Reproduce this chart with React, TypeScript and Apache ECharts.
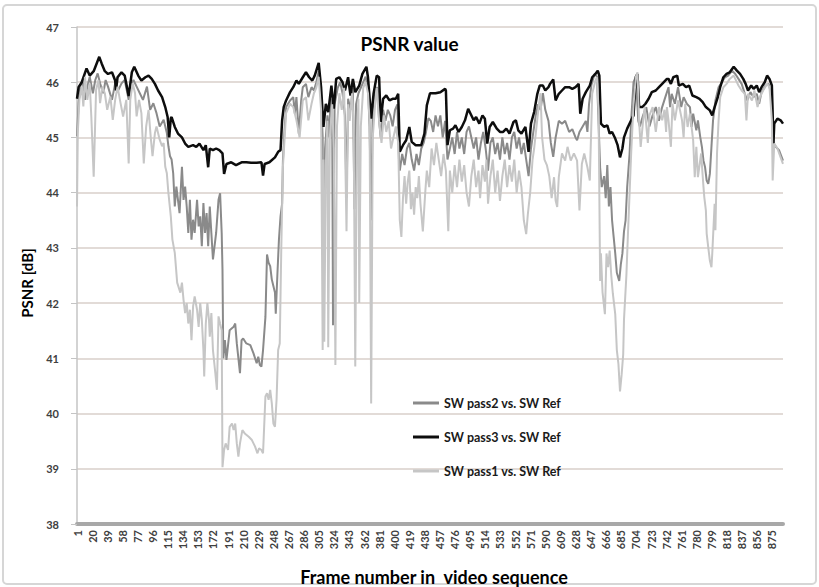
import React, { useEffect, useRef } from "react";
import * as echarts from "echarts";

const frameCount = 889;
const frames: string[] = Array.from({ length: frameCount }, (_, i) => String(i + 1));

const seriesNames = ["SW pass2 vs. SW Ref", "SW pass3 vs. SW Ref", "SW pass1 vs. SW Ref"];
const chartTitle = "PSNR value";
const xAxisTitle = "Frame number in  video sequence";
const yAxisTitle = "PSNR [dB]";

// [frame, PSNR dB]
const pass3: [number, number][] = [
  [1,45.7],[3,45.91],[7,46.0],[13,46.25],[17,46.12],[22,46.2],[29,46.46],[32,46.34],[36,46.2],[40,46.15],[45,46.18],[49,46.03],[50,45.85],[52,46.09],[57,46.18],[61,46.12],[66,45.75],[70,46.18],[73,46.28],[78,46.12],[82,46.03],[87,46.09],[91,46.12],[95,46.06],[99,45.97],[103,45.85],[108,45.73],[112,45.55],[115,45.37],[117,45.0],[119,45.35],[120,45.37],[124,45.19],[128,45.07],[133,45.0],[137,44.89],[141,44.83],[147,44.86],[151,44.83],[155,44.89],[160,44.77],[163,44.86],[166,44.46],[168,44.8],[172,44.77],[176,44.8],[180,44.77],[184,44.71],[186,44.34],[189,44.52],[195,44.55],[201,44.5],[208,44.55],[214,44.55],[220,44.54],[227,44.54],[233,44.55],[235,44.31],[237,44.52],[243,44.55],[250,44.64],[254,44.74],[257,44.77],[259,45.31],[261,45.55],[264,45.67],[269,45.82],[273,45.91],[277,46.03],[280,45.97],[285,46.09],[289,46.18],[293,46.09],[297,46.03],[300,46.12],[305,46.35],[308,45.91],[311,45.19],[314,45.61],[317,45.46],[321,45.94],[324,45.52],[327,46.06],[331,46.09],[335,46.0],[338,45.85],[342,46.09],[345,45.76],[348,46.06],[351,45.82],[356,45.94],[360,46.15],[365,46.28],[367,46.09],[371,45.34],[374,45.79],[378,46.12],[381,46.09],[383,45.28],[386,45.7],[390,45.76],[394,45.67],[398,45.7],[402,45.7],[405,45.79],[407,44.74],[411,44.86],[415,44.95],[419,45.19],[422,44.92],[427,44.86],[434,44.86],[438,45.07],[441,45.58],[445,45.8],[452,45.8],[458,45.82],[464,45.88],[465,45.85],[467,44.86],[470,45.13],[474,45.16],[477,45.22],[481,45.1],[485,45.19],[489,45.31],[493,45.52],[496,45.43],[500,45.31],[503,45.37],[507,45.25],[511,45.4],[514,45.34],[517,44.89],[520,45.19],[524,45.28],[529,45.16],[533,45.1],[537,45.1],[541,45.16],[545,45.07],[550,45.28],[553,45.31],[556,45.13],[560,45.07],[565,45.19],[569,44.74],[572,45.25],[576,45.46],[580,45.79],[583,45.94],[587,45.94],[590,45.85],[594,45.91],[596,45.97],[600,46.05],[603,45.67],[607,45.79],[611,45.85],[615,45.91],[620,45.91],[624,45.88],[628,45.91],[632,45.97],[634,45.43],[637,45.7],[641,45.82],[646,45.94],[649,46.09],[653,46.15],[656,46.21],[658,46.12],[660,45.25],[664,45.19],[668,45.22],[671,45.07],[674,45.1],[678,44.98],[681,44.86],[684,44.64],[687,44.8],[689,45.0],[693,45.16],[698,45.31],[701,45.4],[704,46.1],[706,46.15],[708,45.55],[712,45.55],[716,45.61],[720,45.7],[724,45.82],[729,45.85],[733,45.91],[737,45.97],[743,46.06],[745,46.06],[748,45.97],[751,46.09],[756,46.12],[758,45.94],[763,45.97],[767,45.91],[771,45.94],[775,45.76],[780,45.73],[784,45.7],[788,45.64],[792,45.55],[797,45.49],[800,45.4],[803,45.55],[807,45.73],[810,45.91],[814,46.09],[818,46.15],[822,46.18],[827,46.28],[831,46.21],[835,46.15],[839,46.06],[842,45.97],[845,45.85],[849,45.94],[852,45.88],[856,45.94],[859,45.82],[862,45.91],[866,46.0],[869,46.12],[872,46.06],[875,45.94],[877,44.89],[878,45.25],[882,45.34],[886,45.31],[889,45.25]
];

const pass2: [number, number][] = [
  [1,45.02],[3,45.62],[5,45.92],[8,46.04],[11,45.68],[14,45.92],[17,46.1],[21,45.8],[24,46.04],[27,46.16],[30,45.98],[34,45.8],[37,46.04],[40,45.92],[45,45.68],[49,45.98],[53,45.86],[57,45.98],[61,46.04],[66,45.68],[69,45.98],[72,46.04],[76,45.92],[80,45.8],[84,45.68],[89,45.92],[93,45.5],[97,45.62],[101,45.44],[105,45.2],[110,45.32],[114,45.08],[116,44.84],[118,44.66],[120,44.6],[122,44.35],[124,43.75],[126,44.11],[130,43.63],[133,44.47],[135,43.87],[137,44.11],[139,43.75],[141,43.27],[143,43.87],[145,43.15],[147,43.51],[149,43.27],[152,43.87],[154,43.39],[156,43.57],[158,43.03],[160,43.81],[162,43.27],[164,43.63],[166,43.03],[168,43.75],[170,43.27],[172,42.79],[176,43.27],[179,43.87],[181,43.99],[183,43.27],[184,42.6],[185,41.0],[187,41.33],[189,40.97],[193,41.51],[198,41.57],[200,41.63],[202,41.27],[206,40.73],[208,41.33],[210,41.36],[214,41.27],[219,41.24],[223,41.09],[227,40.91],[229,41.03],[231,40.88],[233,40.85],[235,41.15],[238,41.75],[240,42.88],[242,42.73],[244,42.67],[246,42.43],[248,42.31],[250,42.19],[251,41.81],[253,42.5],[255,43.15],[257,43.57],[259,43.8],[260,44.58],[262,45.13],[264,45.55],[269,45.67],[273,45.73],[275,45.43],[277,45.73],[280,45.07],[283,45.67],[285,45.91],[289,45.97],[292,45.73],[296,45.91],
  [299,45.85],[302,46.0],[305,46.2],[308,45.7],[310,45.0],[311,41.4],[313,44.8],[316,45.4],[318,45.0],[320,45.7],[322,45.3],[323,41.6],[325,45.6],[329,45.9],[332,46.0],[335,45.8],[338,45.4],[340,43.9],[342,45.7],[345,45.5],[348,45.9],[350,43.7],[352,45.6],[355,45.8],[358,45.9],[361,46.0],[364,46.1],[367,45.9],[369,45.2],[371,43.5],[373,45.5],[376,45.9],[379,45.9],[381,45.3],[383,45.0],[386,45.5],[389,45.3],[392,45.5],[395,45.4],[398,45.2],[401,45.5],[404,45.6],[406,44.6],[407,44.4],[410,44.7],[413,44.5],[416,44.8],[419,44.9],[422,44.6],[425,44.4],[428,44.7],[431,44.5],[434,44.8],[437,44.9],[440,45.1],[443,45.35],[446,45.3],[449,45.1],[452,45.4],[455,45.2],[458,45.4],[461,45.0],[464,45.3],[467,44.6],[470,44.8],[473,45.0],[476,44.7],[479,45.1],[482,44.8],[485,45.0],[488,44.7],[491,45.1],[494,45.2],[497,45.0],[500,44.8],[503,45.0],[506,44.6],[509,44.9],[512,45.1],[515,44.8],[518,44.4],[521,44.9],[524,45.0],[527,44.7],[530,44.9],[533,44.6],[536,45.0],[539,44.7],[542,44.9],[545,44.6],[548,45.0],[551,45.1],[554,44.8],[557,45.0],[560,44.7],[563,44.9],[566,44.6],[569,44.3],[572,44.8],[575,45.1],[578,45.4],[581,45.6],[584,45.5],[587,45.8],[590,45.5],[594,45.3],[597,44.9],[600,44.65],[603,45.0],[607,45.3],[611,45.25],[615,45.3],[620,45.1],[624,45.15],[628,45.0],[630,44.95],[633,45.1],[637,45.2],[641,45.3],[643,45.1],[645,45.6],[648,45.95],[652,46.15],[655,46.1],[659,44.45],[661,44.1],[664,44.3],[666,43.9],[668,44.5],[670,43.75],[672,44.1],[674,43.5],[676,43.2],[678,42.9],[680,42.55],[683,42.4],[685,42.7],[687,42.9],[689,43.3],[691,43.5],[693,44.1],[696,44.7],[698,45.3],[701,46.0],[704,46.1],[707,45.3],[709,45.2],[713,45.4],[717,45.55],[721,45.2],[725,45.4],[729,45.55],[733,45.3],[737,45.55],[741,45.73],[745,45.91],[747,45.55],[749,45.79],[753,45.61],[757,45.91],[761,45.55],[764,45.73],[768,45.61],[772,45.55],[774,45.19],[776,45.43],[780,45.13],[782,45.31],[785,45.0],[787,44.83],[789,44.58],[791,44.46],[793,44.22],[795,44.16],[797,44.34],[799,44.83],[801,45.31],[804,45.67],[808,45.91],[812,46.0],[816,46.09],[820,46.12],[825,46.21],[829,46.15],[833,46.06],[837,45.97],[841,45.79],[844,45.67],[848,45.82],[852,45.73],[856,45.79],[859,45.61],[862,45.82],[867,45.94],[871,45.97],[875,45.73],[877,44.89],[880,44.83],[884,44.77],[889,44.58]
];

const pass1: [number, number][] = [
  [1,43.75],[2,45.08],[4,45.68],[7,45.92],[9,45.56],[11,46.1],[14,45.68],[17,45.98],[19,45.38],[22,44.29],[25,45.86],[28,46.04],[30,45.62],[33,45.92],[36,45.8],[39,45.5],[43,45.74],[46,45.32],[49,45.68],[52,45.92],[55,45.68],[59,45.38],[63,45.68],[66,44.53],[68,45.68],[71,45.98],[74,45.8],[76,45.38],[79,45.68],[82,45.44],[85,44.53],[88,45.2],[91,45.5],[94,44.96],[96,44.66],[99,45.08],[101,45.2],[105,44.96],[108,44.84],[110,44.9],[112,44.47],[114,44.35],[116,43.99],[119,43.57],[121,43.15],[124,42.91],[127,42.37],[131,42.19],[133,42.37],[135,42.06],[137,41.82],[139,42.0],[141,41.63],[143,41.88],[145,41.33],[147,41.94],[149,42.12],[152,41.88],[154,41.57],[156,42.0],[158,41.7],[160,41.15],[161,40.67],[163,41.63],[165,42.0],[167,41.7],[168,41.39],[170,41.82],[172,41.15],[175,40.73],[177,40.43],[179,41.76],[181,41.63],[183,41.51],[184,39.03],[186,39.34],[188,39.46],[191,39.34],[193,39.76],[196,39.82],[198,39.7],[200,39.82],[202,39.46],[204,39.22],[206,39.46],[209,39.7],[212,39.64],[217,39.58],[221,39.52],[225,39.4],[228,39.28],[230,39.37],[233,39.34],[235,39.28],[238,40.31],[240,40.37],[242,40.25],[244,40.43],[246,40.19],[248,39.82],[250,39.76],[252,40.25],[254,41.15],[256,41.27],[258,43.03],[260,44.47],[264,45.44],[269,45.61],[273,45.55],[277,45.31],[281,45.0],[285,45.67],[289,45.73],[292,45.31],[296,45.61],
  [299,45.8],[302,45.9],[305,46.1],[308,45.5],[310,41.15],[311,44.6],[312,41.3],[314,44.5],[316,45.3],[317,41.2],[319,45.0],[322,45.6],[324,44.8],[326,40.88],[328,45.2],[331,45.8],[334,45.5],[337,45.9],[340,43.3],[342,45.6],[344,45.3],[347,45.8],[349,45.2],[351,40.85],[353,45.0],[355,45.7],[356,42.0],[358,45.2],[361,45.9],[364,46.0],[367,45.8],[369,45.3],[371,40.18],[373,45.0],[376,45.6],[378,45.9],[381,45.3],[384,44.9],[387,45.4],[390,45.1],[393,45.3],[396,44.8],[399,45.0],[402,45.2],[405,44.9],[407,43.5],[409,43.2],[411,43.9],[413,44.3],[415,43.8],[417,44.2],[419,44.4],[421,43.7],[423,44.0],[425,43.6],[427,44.1],[429,43.9],[431,44.3],[433,43.8],[436,43.3],[439,44.0],[441,44.4],[444,44.1],[447,44.8],[450,44.5],[453,44.9],[456,44.6],[459,44.3],[462,44.7],[465,44.4],[468,43.3],[470,44.4],[473,44.0],[476,44.5],[479,44.1],[482,44.6],[485,44.2],[488,44.5],[491,44.0],[494,43.75],[497,44.3],[500,44.6],[503,44.1],[506,44.4],[508,43.9],[511,44.5],[514,44.2],[516,44.6],[518,43.8],[521,44.3],[524,44.6],[527,44.0],[530,44.4],[533,43.85],[536,44.3],[539,44.6],[542,44.1],[545,44.5],[548,44.2],[551,44.6],[554,44.0],[557,44.4],[560,44.1],[563,43.5],[566,43.25],[568,43.6],[571,44.0],[574,44.6],[576,44.8],[579,45.2],[582,45.6],[584,45.8],[586,45.0],[589,44.6],[592,44.5],[595,44.3],[598,43.9],[601,44.28],[603,43.86],[605,43.74],[607,44.28],[611,44.71],[615,44.58],[618,44.83],[622,44.58],[626,44.71],[630,44.58],[633,43.68],[636,44.52],[639,44.71],[643,44.46],[646,44.22],[649,45.79],[653,46.03],[655,46.09],[657,45.5],[659,42.4],[660,42.9],[662,42.2],[665,41.8],[667,42.9],[669,42.65],[671,42.95],[673,42.5],[675,42.17],[678,41.8],[680,41.15],[682,40.9],[684,40.4],[686,40.7],[688,41.07],[689,41.7],[692,42.5],[694,43.26],[696,43.98],[698,44.7],[701,45.6],[704,46.1],[706,46.18],[708,45.3],[710,44.83],[713,45.3],[715,45.55],[719,44.9],[721,45.4],[725,45.55],[729,45.1],[733,45.55],[737,45.31],[740,45.5],[742,45.1],[743,45.55],[745,45.31],[748,44.83],[750,45.61],[753,45.31],[757,45.67],[762,45.31],[764,45.0],[766,45.61],[769,45.19],[772,45.43],[776,44.95],[778,44.28],[780,44.83],[782,44.28],[786,44.71],[789,44.1],[790,43.92],[792,43.68],[793,43.26],[795,43.01],[797,42.77],[799,42.65],[800,42.89],[803,43.8],[804,43.32],[806,44.71],[808,45.31],[810,45.73],[814,45.91],[818,45.97],[822,46.06],[827,46.12],[830,46.03],[833,45.94],[837,45.85],[841,45.79],[843,45.31],[845,45.79],[850,45.67],[853,45.85],[857,45.55],[860,45.73],[864,45.85],[869,45.97],[872,45.91],[875,45.31],[876,44.22],[878,44.89],[882,44.8],[886,44.64],[889,44.52]
];

const yMin = 38;
const yMax = 47;

const FONT = "Lato, 'Open Sans', sans-serif";

export default function App() {
  const ref = useRef<HTMLDivElement>(null);
  useEffect(() => {
    if (!ref.current) return;
    const chart = echarts.init(ref.current, undefined, { renderer: "svg" });
    const toData = (arr: [number, number][]) => arr.map(([f, v]) => [f - 1, v]);
    chart.setOption({
      animation: false,
      backgroundColor: "#ffffff",
      textStyle: { fontFamily: FONT },
      title: {
        text: chartTitle,
        left: "center",
        top: 34,
        padding: 0,
        textStyle: { fontFamily: FONT, fontSize: 19, fontWeight: "bold", color: "#000" },
      },
      graphic: [
        {
          type: "rect",
          shape: { x: 3, y: 5, width: 813, height: 579, r: 4 },
          style: { fill: "none", stroke: "#d6d6d6", lineWidth: 2 },
          silent: true,
          z: -10,
        },
        {
          type: "text",
          x: 434,
          y: 577,
          silent: true,
          style: {
            text: xAxisTitle,
            fontFamily: FONT,
            fontSize: 18,
            fontWeight: "bold",
            fill: "#000",
            align: "center",
            verticalAlign: "middle",
          },
        },
        {
          type: "text",
          x: 27,
          y: 283,
          rotation: Math.PI / 2,
          silent: true,
          style: {
            text: yAxisTitle,
            fontFamily: FONT,
            fontSize: 15,
            fontWeight: "bold",
            fill: "#000",
            align: "center",
            verticalAlign: "middle",
          },
        },
      ],
      legend: {
        orient: "vertical",
        left: 408,
        top: 391,
        icon: "rect",
        itemWidth: 26,
        itemHeight: 3,
        itemGap: 20,
        data: seriesNames,
        textStyle: { fontFamily: FONT, fontSize: 12.5, fontWeight: "bold", color: "#1a1a1a", lineHeight: 14 },
      },
      grid: {
        left: 77,
        right: 36,
        top: 27,
        bottom: 63,
        containLabel: false,
        outerBoundsMode: "none",
      },
      xAxis: {
        type: "category",
        data: frames,
        boundaryGap: false,
        axisLine: { lineStyle: { color: "#a8a8a8", width: 4 } },
        axisTick: { show: false },
        axisLabel: {
          interval: 18,
          rotate: 90,
          margin: 6,
          fontFamily: FONT,
          fontSize: 11,
          fontWeight: "bold",
          color: "#404040",
        },
        splitLine: { show: false },
      },
      yAxis: {
        type: "value",
        min: yMin,
        max: yMax,
        interval: 1,
        axisLine: { show: true, lineStyle: { color: "#c4c4c4", width: 1.5 } },
        axisTick: { show: true, length: 6, lineStyle: { color: "#c4c4c4" } },
        axisLabel: { margin: 18, fontFamily: FONT, fontSize: 11, fontWeight: "bold", color: "#404040" },
        splitLine: { lineStyle: { color: "#d9cfca", width: 1.5 } },
      },
      series: [
        {
          name: seriesNames[0],
          type: "line",
          symbol: "none",
          color: "#8a8a8a",
          lineStyle: { color: "#8a8a8a", width: 2 },
          data: toData(pass2),
        },
        {
          name: seriesNames[1],
          type: "line",
          symbol: "none",
          color: "#0d0d0d",
          lineStyle: { color: "#0d0d0d", width: 2.5 },
          data: toData(pass3),
        },
        {
          name: seriesNames[2],
          type: "line",
          symbol: "none",
          color: "#c6c6c6",
          lineStyle: { color: "#c6c6c6", width: 2 },
          data: toData(pass1),
        },
      ],
    });
    return () => chart.dispose();
  }, []);
  return (
    <div
      ref={ref}
      style={{ position: "absolute", left: 0, top: 0, width: 819, height: 587 }}
    />
  );
}
